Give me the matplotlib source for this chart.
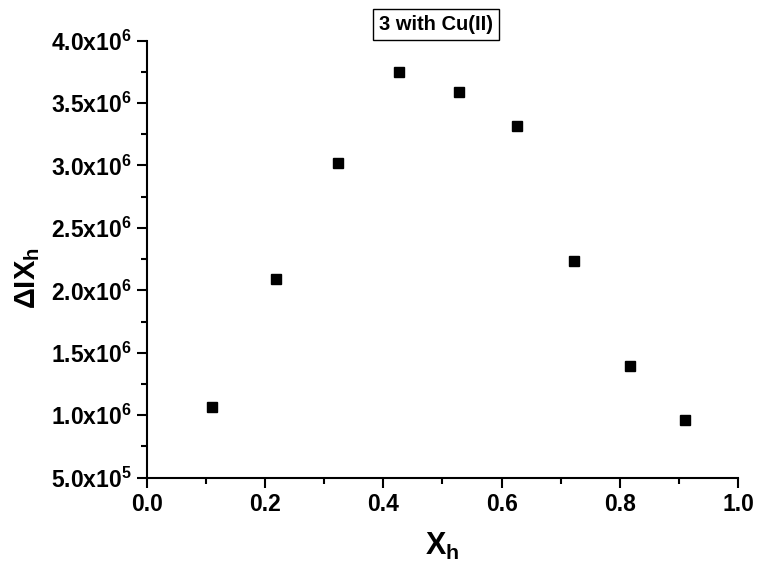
import matplotlib
matplotlib.use("Agg")
import matplotlib.pyplot as plt
from matplotlib.ticker import FixedLocator, MultipleLocator

plt.rcParams['font.family'] = ['Liberation Sans', 'DejaVu Sans']
plt.rcParams['font.weight'] = 'bold'
plt.rcParams['mathtext.fontset'] = 'custom'
plt.rcParams['mathtext.rm'] = 'Liberation Sans:bold'
plt.rcParams['mathtext.it'] = 'Liberation Sans:bold'
plt.rcParams['mathtext.default'] = 'regular'

# Job plot data: mole fraction of host vs. Delta I * X_h
x_h = [0.110, 0.218, 0.324, 0.427, 0.528, 0.626, 0.723, 0.817, 0.910]
delta_i_xh = [1.066e6, 2.09e6, 3.017e6, 3.75e6, 3.586e6, 3.313e6, 2.235e6, 1.397e6, 0.962e6]

x_ticks = [0.0, 0.2, 0.4, 0.6, 0.8, 1.0]
y_ticks = [5.0e5, 1.0e6, 1.5e6, 2.0e6, 2.5e6, 3.0e6, 3.5e6, 4.0e6]
y_tick_labels = ['5.0x10$^{5}$', '1.0x10$^{6}$', '1.5x10$^{6}$', '2.0x10$^{6}$',
                 '2.5x10$^{6}$', '3.0x10$^{6}$', '3.5x10$^{6}$', '4.0x10$^{6}$']

fig = plt.figure(figsize=(7.6, 5.64), dpi=100)
ax = fig.add_axes([0.1934, 0.153, 0.7776, 0.775])

ax.plot(x_h, delta_i_xh, 's', color='black', markersize=7, linestyle='none')

ax.set_xlim(0.0, 1.0)
ax.set_ylim(5.0e5, 4.0e6)
ax.xaxis.set_major_locator(FixedLocator(x_ticks))
ax.xaxis.set_minor_locator(MultipleLocator(0.1))
ax.yaxis.set_major_locator(FixedLocator(y_ticks))
ax.yaxis.set_minor_locator(MultipleLocator(2.5e5))
ax.set_xticklabels([f"{t:.1f}" for t in x_ticks])
ax.set_yticklabels(y_tick_labels)

for side in ['top', 'right']:
    ax.spines[side].set_visible(False)
for side in ['left', 'bottom']:
    ax.spines[side].set_linewidth(1.5)

ax.tick_params(which='major', direction='out', length=7, width=1.5, labelsize=16.5, pad=4)
ax.tick_params(which='minor', direction='out', length=4.5, width=1.5)

ax.set_xlabel('X$_{h}$', fontsize=22, fontweight='bold', labelpad=11)
ax.set_ylabel(r'$\Delta$IX$_{h}$', fontsize=21, fontweight='bold')
ax.yaxis.set_label_coords(-0.178, 0.457)

ax.text(0.4885, 1.036, '3 with Cu(II)', transform=ax.transAxes, ha='center', va='center',
        fontsize=14.5, fontweight='bold',
        bbox=dict(boxstyle='square,pad=0.3', facecolor='white', edgecolor='black', linewidth=1))

fig.savefig('out.png', dpi=100)
